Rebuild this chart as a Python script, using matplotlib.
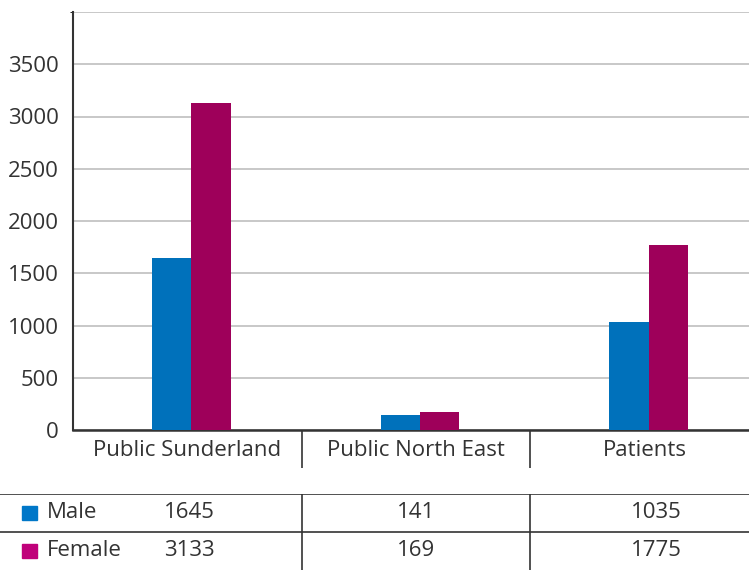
import numpy as np
import matplotlib
matplotlib.use("Agg")
import matplotlib.pyplot as plt
from matplotlib.patches import Rectangle

categories = ["Public Sunderland", "Public North East", "Patients"]
series = ["Male", "Female"]
male = [1645, 141, 1035]
female = [3133, 169, 1775]
yticks = [0, 500, 1000, 1500, 2000, 2500, 3000, 3500]

bar_colors = ["#0071bb", "#9e005a"]
key_colors = ["#0077c8", "#c0007a"]
ink = "#333333"

plt.rcParams["font.family"] = ["Open Sans", "DejaVu Sans"]

W, H = 749, 570
fig = plt.figure(figsize=(W / 100, H / 100), dpi=100)

# main bar area (pixel box 73..759 x 12..430)
ax = fig.add_axes([73 / W, (H - 430) / H, (759 - 73) / W, (430 - 12) / H])
x = np.arange(len(categories))
w = 0.172
shift = 0.017
ax.bar(x + shift - w / 2, male, w, color=bar_colors[0], zorder=3)
ax.bar(x + shift + w / 2, female, w, color=bar_colors[1], zorder=3)

ax.set_xlim(-0.5, 2.5)
ax.set_ylim(0, 4000)
ax.set_yticks(yticks)
ax.set_yticks([4000], minor=True)
ax.yaxis.grid(True, which="both", color="#c4c4c4", linewidth=1.3, zorder=0)
ax.tick_params(axis="y", length=0, labelsize=16, labelcolor=ink, pad=10)

ax.set_xticks(x)
ax.set_xticklabels(categories)
ax.tick_params(axis="x", which="major", length=0, labelsize=16,
               labelcolor=ink, pad=7)
ax.set_xticks([0.5, 1.5], minor=True)
ax.tick_params(axis="x", which="minor", length=27, width=1.2,
               color=ink, direction="out")

for side in ["top", "right"]:
    ax.spines[side].set_visible(False)
ax.spines["left"].set_color(ink)
ax.spines["left"].set_linewidth(1.5)
ax.spines["bottom"].set_color(ink)
ax.spines["bottom"].set_linewidth(1.8)
ax.set_axisbelow(True)

# data table under the chart
tab = fig.add_axes([0, 0, 759 / W, 76 / H])
left_edge = -0.5 - 73 / (759 - 73) * 3
tab.set_xlim(left_edge, 2.5)
tab.set_ylim(0, 2)
tab.axis("off")
tab.axhline(2, color=ink, linewidth=1.2)
tab.axhline(1, color=ink, linewidth=1.2)
tab.vlines([0.5, 1.5], 0, 2, color=ink, linewidth=1.2)

rows = [male, female]
col_offset = [0.01, 0.0, 0.05]
for i, name in enumerate(series):
    yc = 1.5 - i
    sq = Rectangle((left_edge + 22 / 229, yc - 0.19), 15 / 229, 0.38,
                   color=key_colors[i], transform=tab.transData)
    tab.add_patch(sq)
    tab.text(left_edge + 47 / 229, yc, name, fontsize=16, color=ink,
             va="center", ha="left")
    for j, v in enumerate(rows[i]):
        tab.text(j + col_offset[j], yc, str(v), fontsize=16,
                 color=ink, va="center", ha="center")

fig.savefig("out.png", dpi=100)
